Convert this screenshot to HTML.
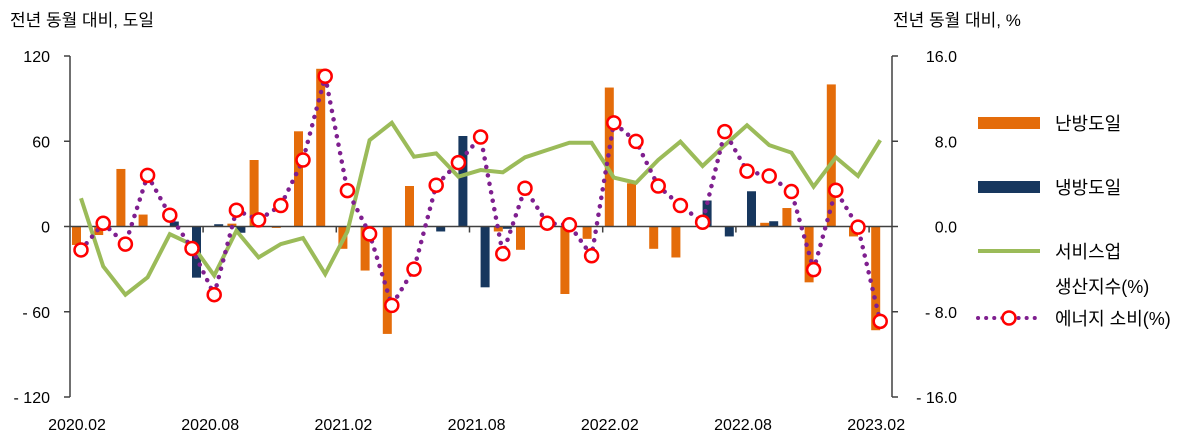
<!DOCTYPE html>
<html><head><meta charset="utf-8">
<style>
body{margin:0;background:#fff;font-family:"Liberation Sans","Noto Sans CJK KR",sans-serif;}
svg text{font-family:"Liberation Sans","Noto Sans CJK KR",sans-serif;fill:#000;}
</style></head>
<body>
<svg id="chart" width="1198" height="440" xmlns="http://www.w3.org/2000/svg">
<text x="10" y="26" font-size="17">전년 동월 대비, 도일</text>
<text x="893" y="26" font-size="17">전년 동월 대비, %</text>
<g id="plot"></g>
<g>
  <rect x="978" y="117" width="62" height="12" fill="#e46c0a"/>
  <text x="1055" y="130" font-size="18">난방도일</text>
  <rect x="978" y="181" width="62" height="12" fill="#17375e"/>
  <text x="1055" y="194" font-size="18">냉방도일</text>
  <line x1="978" y1="251" x2="1040" y2="251" stroke="#9bbb59" stroke-width="4"/>
  <text x="1055" y="258" font-size="18">서비스업</text>
  <text x="1055" y="293" font-size="18">생산지수(%)</text>
  <line x1="978" y1="318" x2="1040" y2="318" stroke="#7f1f8f" stroke-width="4" stroke-dasharray="0.1 8" stroke-linecap="round"/>
  <circle cx="1009" cy="318" r="6.5" fill="#fff" stroke="#ff0000" stroke-width="2.5"/>
  <text x="1055" y="325" font-size="18">에너지 소비(%)</text>
</g>
</svg>
<script>
const categories=["2020.02","2020.03","2020.04","2020.05","2020.06","2020.07","2020.08","2020.09","2020.10","2020.11","2020.12","2021.01","2021.02","2021.03","2021.04","2021.05","2021.06","2021.07","2021.08","2021.09","2021.10","2021.11","2021.12","2022.01","2022.02","2022.03","2022.04","2022.05","2022.06","2022.07","2022.08","2022.09","2022.10","2022.11","2022.12","2023.01","2023.02"];
const heating=[-13,-6,40.5,8.4,0,0,0,2,46.8,-1,67,111,-15.7,-31,-75.6,28.5,0,0,0,-3.5,-16.4,0,-47.5,-8.7,97.8,30.4,-15.7,-21.8,0,0,0,2.6,13,-39.3,100,-7,-73];
const cooling=[0,0,0,0,3.5,-36,1.6,-4.4,0,0,0,0,0,0,0,0,-3.5,63.7,-42.8,-1.6,0,0,0,0,0,0,0,0,18.3,-7,24.8,3.7,0,0,0,0,0];
const service=[2.65,-3.74,-6.4,-4.77,-0.72,-1.7,-4.6,-0.4,-2.9,-1.65,-1.09,-4.46,-0.47,8.1,9.73,6.55,6.86,4.68,5.3,5.08,6.49,7.18,7.86,7.86,4.59,4.1,6.24,7.96,5.68,7.64,9.5,7.64,6.93,3.74,6.49,4.74,8.1];
const energy=[-2.2,0.3,-1.65,4.8,1.06,-2.06,-6.4,1.53,0.62,1.97,6.24,14.1,3.37,-0.69,-7.4,-4.0,3.87,6.0,8.4,-2.56,3.59,0.31,0.16,-2.75,9.73,7.99,3.8,1.97,0.4,8.9,5.2,4.74,3.28,-4.05,3.4,-0.06,-8.9];
const leftTicks=[120,60,0,-60,-120];
const leftTickLabels=["120","60","0","- 60","- 120"];
const rightTicks=[16,8,0,-8,-16];
const rightTickLabels=["16.0","8.0","0.0","- 8.0","- 16.0"];
const xLabelIdx=[0,6,12,18,24,30,36];

const NS="http://www.w3.org/2000/svg";
const g=document.getElementById('plot');
const X0=70,X1=892,Y0=56,Y1=397;
const yL=v=>Y0+(120-v)/240*(Y1-Y0);
const yR=v=>Y0+(16-v)/32*(Y1-Y0);
const step=22.2;
const xC=i=>81+i*step;
function mk(tag,attrs){const e=document.createElementNS(NS,tag);for(const k in attrs)e.setAttribute(k,attrs[k]);g.appendChild(e);return e;}

let e=mk('line',{x1:X0,y1:Y0,x2:X0,y2:Y1,stroke:'#404040','stroke-width':1.5});


e=mk('line',{x1:X1,y1:Y0,x2:X1,y2:Y1,stroke:'#404040','stroke-width':1.5});


leftTicks.forEach((v,i)=>{
  const t=mk('line',{x1:X0-6,y1:yL(v),x2:X0,y2:yL(v),stroke:'#404040','stroke-width':1.5});
  
  
  const l=mk('text',{x:50,y:yL(v)+6,'font-size':16,'text-anchor':'end'});
  l.textContent=leftTickLabels[i];
  
  
});
rightTicks.forEach((v,i)=>{
  const t=mk('line',{x1:X1,y1:yR(v),x2:X1+6,y2:yR(v),stroke:'#404040','stroke-width':1.5});
  
  
  const l=mk('text',{x:957,y:yR(v)+6,'font-size':16,'text-anchor':'end'});
  l.textContent=rightTickLabels[i];
  
  
});
categories.forEach((c,i)=>{
  const x=xC(i);
  if(heating[i]!==0){
    const y=Math.min(yL(0),yL(heating[i])),h=Math.abs(yL(heating[i])-yL(0));
    const b=mk('rect',{x:x-9,y:y,width:9,height:h,fill:'#e46c0a'});
    
    
  }
  if(cooling[i]!==0){
    const y=Math.min(yL(0),yL(cooling[i])),h=Math.abs(yL(cooling[i])-yL(0));
    const b=mk('rect',{x:x,y:y,width:9,height:h,fill:'#17375e'});
    
    
  }
});
e=mk('line',{x1:X0,y1:yL(0),x2:X1,y2:yL(0),stroke:'#404040','stroke-width':1.5});


for(let i=6;i<categories.length;i+=6){
  const t=mk('line',{x1:xC(i)-step/2,y1:yL(0),x2:xC(i)-step/2,y2:yL(0)+6,stroke:'#404040','stroke-width':1.5});
  
  
}
xLabelIdx.forEach(i=>{
  const l=mk('text',{x:xC(i)-4,y:430,'font-size':16,'text-anchor':'middle'});
  l.textContent=categories[i];
  
  
});
e=mk('polyline',{points:service.map((v,i)=>xC(i)+','+yR(v)).join(' '),fill:'none',stroke:'#9bbb59','stroke-width':4,'stroke-linejoin':'miter'});


e=mk('polyline',{points:energy.map((v,i)=>xC(i)+','+yR(v)).join(' '),fill:'none',stroke:'#7f1f8f','stroke-width':4.5,'stroke-dasharray':'0.1 8.5','stroke-linecap':'round'});


energy.forEach((v,i)=>{
  const c=mk('circle',{cx:xC(i),cy:yR(v),r:6.5,fill:'#fff',stroke:'#ff0000','stroke-width':2.5});
  
  
});
</script>
</body></html>
